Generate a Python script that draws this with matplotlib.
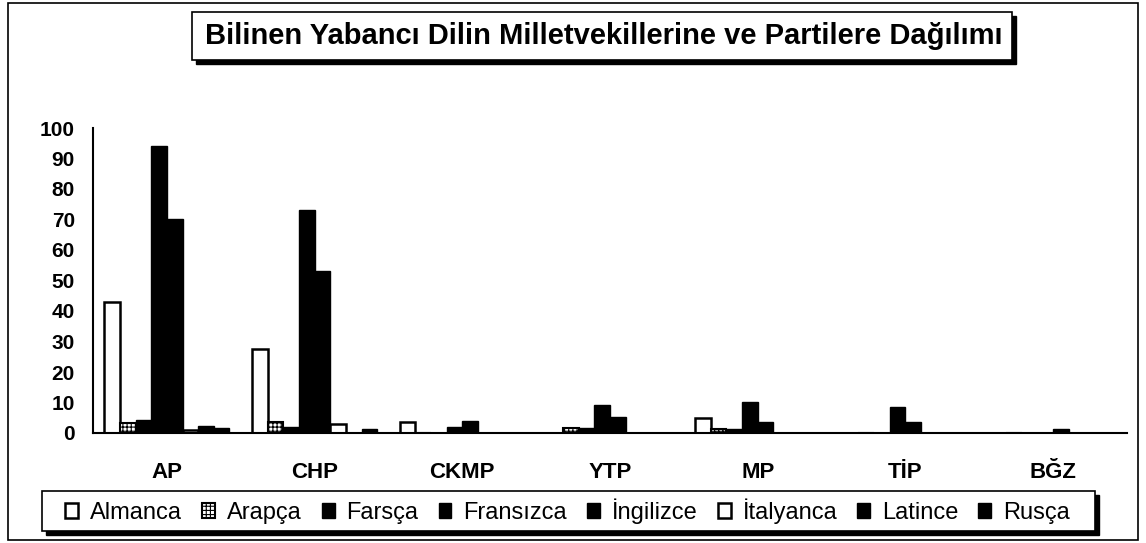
import matplotlib
matplotlib.use("Agg")
import matplotlib.pyplot as plt
import numpy as np
from matplotlib.patches import Rectangle

plt.rcParams["font.family"] = ["Liberation Sans", "DejaVu Sans"]
plt.rcParams["hatch.linewidth"] = 0.8

partiler = ["AP", "CHP", "CKMP", "YTP", "MP", "TİP", "BĞZ"]
diller = ["Almanca", "Arapça", "Farsça", "Fransızca", "İngilizce", "İtalyanca", "Latince", "Rusça"]

almanca = [43, 27.5, 3.5, 0, 4.8, 0, 0]
arapca = [3.4, 3.5, 0, 1.5, 1.2, 0, 0]
farsca = [4.3, 2, 0, 1.5, 1.2, 0, 0]
fransizca = [94, 73, 2, 9.2, 10.3, 8.6, 0]
ingilizce = [70, 53, 4, 5.3, 3.7, 3.7, 1.2]
italyanca = [1, 3, 0, 0, 0, 0, 0]
latince = [2.4, 0, 0, 0, 0, 0, 0]
rusca = [1.5, 1.3, 0, 0, 0, 0, 0]

yticks = list(range(0, 101, 10))

seriler = [almanca, arapca, farsca, fransizca, ingilizce, italyanca, latince, rusca]
stiller = [
    dict(facecolor="white", edgecolor="black", linewidth=1.8),
    dict(facecolor="white", edgecolor="black", linewidth=1.5, hatch="++++"),
    dict(facecolor="black", edgecolor="black", linewidth=1),
    dict(facecolor="black", edgecolor="black", linewidth=1),
    dict(facecolor="black", edgecolor="black", linewidth=1),
    dict(facecolor="white", edgecolor="black", linewidth=1.8),
    dict(facecolor="black", edgecolor="black", linewidth=1),
    dict(facecolor="black", edgecolor="black", linewidth=1),
]

W, H = 1146, 543
fig = plt.figure(figsize=(W / 100, H / 100), dpi=100)
fig.patch.set_facecolor("white")

# eksen alanı (piksel ölçüleri referanstan)
ax = fig.add_axes([93 / W, 1 - 433 / H, (1127 - 93) / W, (433 - 128) / H])
ax.set_facecolor("none")

x = np.arange(len(partiler))
w = 0.106
handles = []
for i, (vals, st) in enumerate(zip(seriler, stiller)):
    b = ax.bar(x + (i - 3.5) * w, vals, width=w, label=diller[i], **st)
    handles.append(b)

ax.set_xlim(-0.5, len(partiler) - 0.5)
ax.set_ylim(0, 100)
ax.set_yticks(yticks)
ax.set_yticklabels([str(v) for v in yticks], fontsize=15, fontweight="bold")
ax.set_xticks(x)
ax.set_xticklabels(partiler, fontsize=16, fontweight="bold")
ax.tick_params(axis="y", length=0, pad=13)
ax.tick_params(axis="x", length=0, pad=21)
for s in ["top", "right"]:
    ax.spines[s].set_visible(False)
ax.spines["left"].set_linewidth(1.5)
ax.spines["bottom"].set_linewidth(1.5)


def kutu(x0, y0, x1, y1, golge=4):
    # piksel -> figür oranı, gölgeli kutu
    fx, fy = x0 / W, 1 - y1 / H
    fw, fh = (x1 - x0) / W, (y1 - y0) / H
    fig.add_artist(Rectangle((fx + golge / W, fy - golge / H), fw, fh,
                             transform=fig.transFigure, facecolor="black", edgecolor="black", zorder=5))
    fig.add_artist(Rectangle((fx, fy), fw, fh, transform=fig.transFigure,
                             facecolor="white", edgecolor="black", linewidth=1.2, zorder=6))


# dış çerçeve
fig.add_artist(Rectangle((8 / W, 1 - 540 / H), (1138 - 8) / W, (540 - 3) / H,
                         transform=fig.transFigure, facecolor="none", edgecolor="black", linewidth=1.2))

# başlık
kutu(192, 12, 1012, 60)
fig.text(604 / W, 1 - 36 / H, "Bilinen Yabancı Dilin Milletvekillerine ve Partilere Dağılımı",
         ha="center", va="center", fontsize=21, fontweight="bold", zorder=7)

# lejant
kutu(42, 491, 1095, 531)
leg = fig.legend(handles=handles, loc="center left", bbox_to_anchor=(51 / W, 1 - 511 / H),
                 ncol=8, frameon=False, fontsize=17,
                 handlelength=0.55, handleheight=0.55,
                 handletextpad=0.5, columnspacing=0.85, borderpad=0.1)
leg.set_zorder(8)

plt.savefig("out.png", dpi=100)
